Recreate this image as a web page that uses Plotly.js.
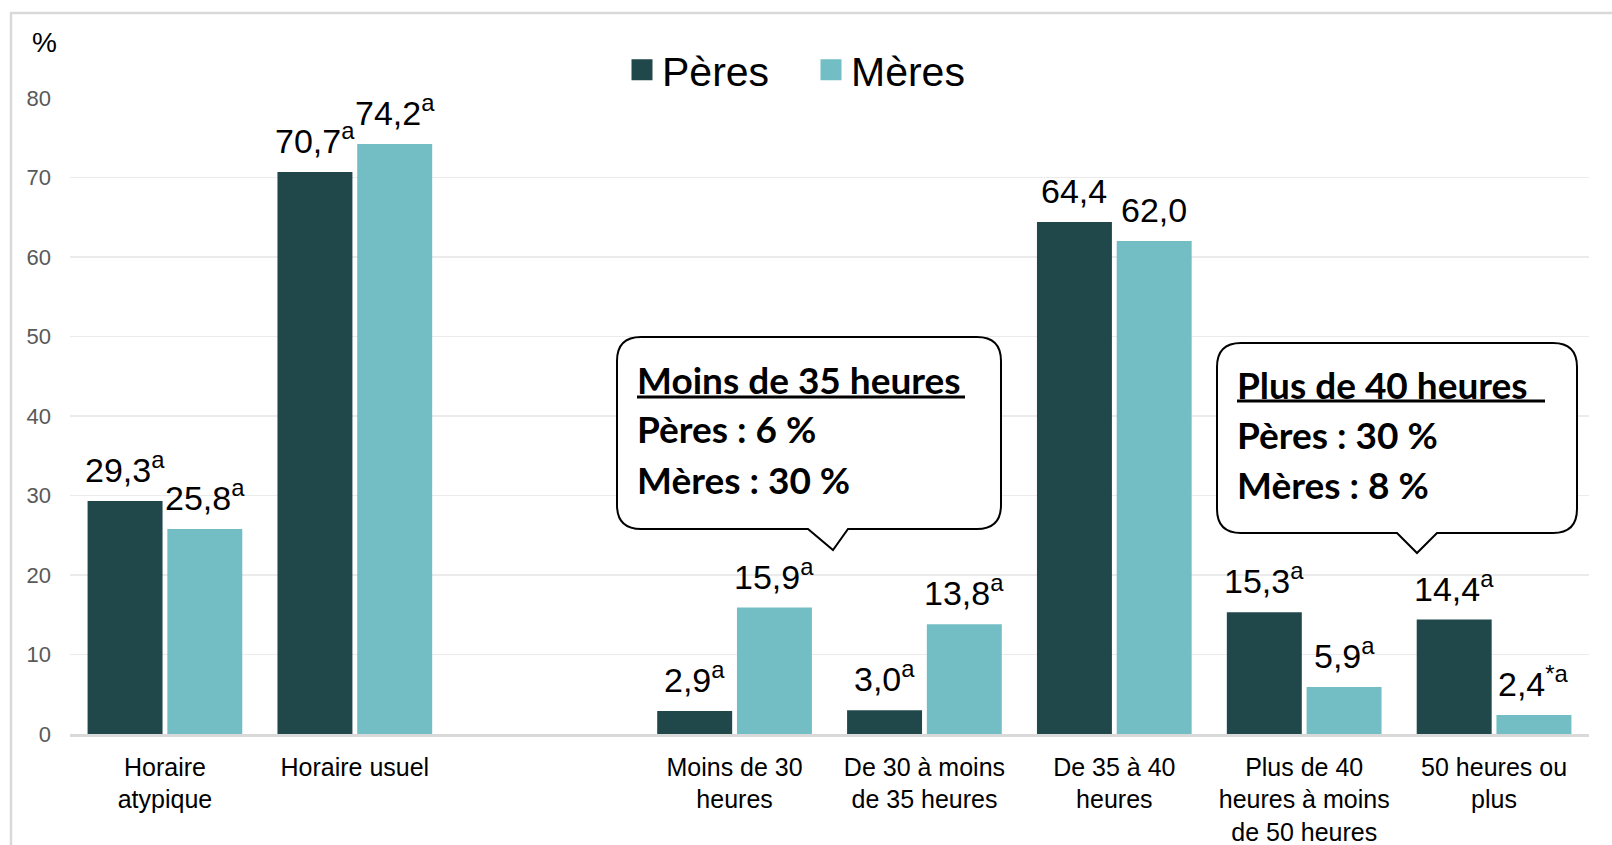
<!DOCTYPE html>
<html>
<head>
<meta charset="utf-8">
<script src="https://cdn.plot.ly/plotly-3.0.1.min.js"></script>
<style>
  html, body { margin: 0; padding: 0; background: #ffffff; }
  #chart { width: 1612px; height: 845px; }
</style>
</head>
<body>
<div id="chart"></div>
<script>
// ---- Data ----
const categories = [
  "Horaire<br>atypique",
  "Horaire usuel",
  " ",
  "Moins de 30<br>heures",
  "De 30 à moins<br>de 35 heures",
  "De 35 à 40<br>heures",
  "Plus de 40<br>heures à moins<br>de 50 heures",
  "50 heures ou<br>plus"
];
const seriesNames = ["Pères", "Mères"];
const peres = [29.3, 70.7, null, 2.9, 3.0, 64.4, 15.3, 14.4];
const meres = [25.8, 74.2, null, 15.9, 13.8, 62.0, 5.9, 2.4];
const peresNotes = ["a", "a", "", "a", "a", "", "a", "a"];
const meresNotes = ["a", "a", "", "a", "a", "", "a", "*a"];
const yTicks = [0, 10, 20, 30, 40, 50, 60, 70, 80];
const callout1 = ["Moins de 35 heures", "Pères : 6 %", "Mères : 30 %"];
const callout2 = ["Plus de 40 heures", "Pères : 30 %", "Mères : 8 %"];

// ---- Styles ----
const colors = ["#20474A", "#73BEC4"];
const W = 1612, H = 845;
const M = { l: 70, r: 23, t: 98, b: 111, autoexpand: false };
const PW = W - M.l - M.r, PH = H - M.t - M.b;
const BARGAP = 0.16, GROUPGAP = 0.06;
const px = v => (v - M.l) / PW;
const py = v => (H - M.b - v) / PH;

function fmt(v, note) {
  return v.toFixed(1).replace(".", ",") + (note ? "<sup>" + note + "</sup>" : "");
}

const traces = [peres, meres].map((vals, i) => ({
  type: "bar",
  name: seriesNames[i],
  x: categories,
  y: vals,
  marker: { color: colors[i] },
  showlegend: false,
  hoverinfo: "x+y"
}));
// legend entries (bigger square icons)
seriesNames.forEach((n, i) => traces.push({
  type: "scatter", mode: "markers", name: n,
  x: [null], y: [null],
  marker: { symbol: "square", size: 16, color: colors[i], line: { color: colors[i], width: 5 } },
  showlegend: true, hoverinfo: "skip"
}));

// value labels
const slot = PW / categories.length * (1 - BARGAP) / 2;
const annotations = [];
[[peres, peresNotes, -1], [meres, meresNotes, 1]].forEach(([vals, notes, side]) => {
  vals.forEach((v, j) => {
    if (v === null) return;
    annotations.push({
      x: categories[j], y: v, xref: "x", yref: "y",
      xshift: side * slot / 2, yshift: 10,
      yanchor: "bottom", xanchor: "center",
      text: fmt(v, notes[j]), showarrow: false,
      font: { family: "Liberation Sans, Arial, sans-serif", size: 34, color: "#000000" }
    });
  });
});
// % label
annotations.push({
  xref: "paper", yref: "paper", x: px(44), y: py(43), xanchor: "center", yanchor: "middle",
  text: "%", showarrow: false,
  font: { family: "Liberation Sans, Arial, sans-serif", size: 28, color: "#000000" }
});

// callouts
const shapes = [];
function callout(lines, box, textX, baselines, ulY, ulX2) {
  const [l, t, r, b, rad, tl, tr, tx, ty] = box;
  const P = (x, y) => px(x).toFixed(5) + "," + py(y).toFixed(5);
  const path = "M" + P(l + rad, t) + " L" + P(r - rad, t) + " Q" + P(r, t) + " " + P(r, t + rad) +
    " L" + P(r, b - rad) + " Q" + P(r, b) + " " + P(r - rad, b) +
    " L" + P(tr, b) + " L" + P(tx, ty) + " L" + P(tl, b) +
    " L" + P(l + rad, b) + " Q" + P(l, b) + " " + P(l, b - rad) +
    " L" + P(l, t + rad) + " Q" + P(l, t) + " " + P(l + rad, t) + " Z";
  shapes.push({ type: "path", xref: "paper", yref: "paper", path: path,
    fillcolor: "#ffffff", line: { color: "#000000", width: 2 }, layer: "above" });
  shapes.push({ type: "line", xref: "paper", yref: "paper",
    x0: px(textX), x1: px(ulX2), y0: py(ulY), y1: py(ulY),
    line: { color: "#000000", width: 3 }, layer: "above" });
  lines.forEach((txt, k) => {
    annotations.push({
      xref: "paper", yref: "paper", x: px(textX - 2), y: py(baselines[k] - 12),
      xanchor: "left", yanchor: "middle", text: txt, showarrow: false,
      font: { family: "Lato, sans-serif", size: 37, color: "#000000", weight: 700 }
    });
  });
}
callout(callout1, [617, 337, 1001, 529, 24, 808, 848, 833, 550], 637, [391, 441, 491], 397, 965);
callout(callout2, [1217, 343, 1577, 533, 24, 1397, 1437, 1417, 553], 1237, [396, 446, 497], 401, 1545);

// outer border
shapes.push({ type: "rect", xref: "paper", yref: "paper",
  x0: px(11), x1: px(1650), y0: py(13), y1: py(900),
  line: { color: "#d9d9d9", width: 2.5 }, fillcolor: "rgba(0,0,0,0)", layer: "below" });

const layout = {
  width: W, height: H,
  margin: M,
  paper_bgcolor: "#ffffff", plot_bgcolor: "#ffffff",
  barmode: "group", bargap: BARGAP, bargroupgap: GROUPGAP,
  font: { family: "Liberation Sans, Arial, sans-serif", color: "#000000" },
  xaxis: {
    type: "category",
    tickfont: { size: 25, color: "#000000" },
    showline: true, linecolor: "#d9d9d9", linewidth: 2.5,
    showgrid: false, ticks: "", ticklabelstandoff: 9, fixedrange: true, automargin: false
  },
  yaxis: {
    range: [0, 80], tickvals: yTicks, ticktext: yTicks.map(String),
    tickfont: { size: 22, color: "#595959" },
    showgrid: true, gridcolor: "#ebebeb", gridwidth: 1.5,
    zeroline: false, showline: false, ticks: "", ticklabelstandoff: 18, fixedrange: true, automargin: false
  },
  showlegend: true,
  legend: {
    orientation: "h", xref: "container", yref: "container",
    x: 622 / W, y: 1 - 70 / H, xanchor: "left", yanchor: "middle",
    font: { size: 41, color: "#000000" }, bgcolor: "rgba(0,0,0,0)",
    entrywidth: 144, entrywidthmode: "pixels", traceorder: "normal"
  },
  annotations: annotations,
  shapes: shapes
};

Plotly.newPlot("chart", traces, layout, { displayModeBar: false, staticPlot: true });
</script>
</body>
</html>
